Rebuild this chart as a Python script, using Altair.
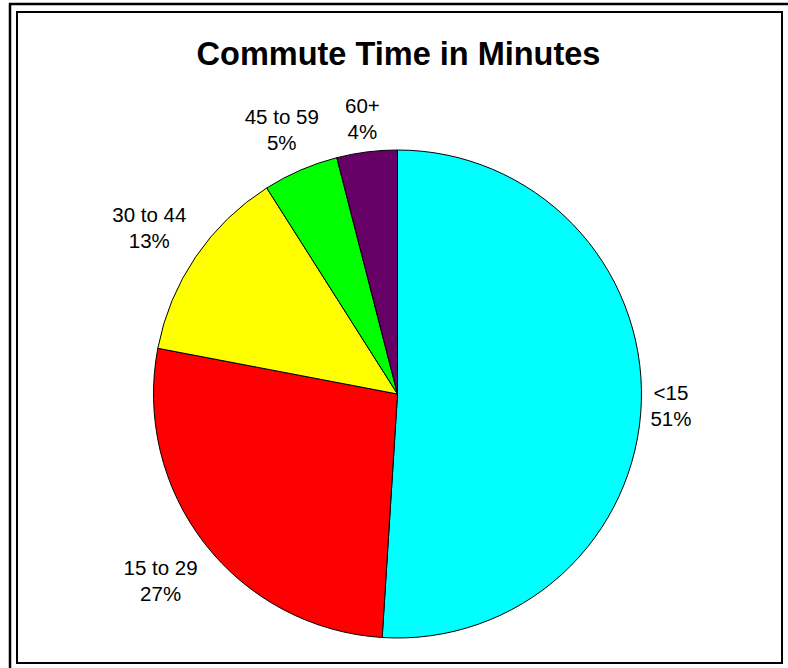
import altair as alt
import pandas as pd

categories = ["<15", "15 to 29", "30 to 44", "45 to 59", "60+"]
percents = [51, 27, 13, 5, 4]
colors = ["#00FFFF", "#FF0000", "#FFFF00", "#00FF00", "#660066"]

df = pd.DataFrame({
    "cat": categories,
    "value": percents,
    "idx": list(range(len(categories))),
    "pct": [f"{p}%" for p in percents],
    "label": [[c, f"{p}%"] for c, p in zip(categories, percents)],
})

one = pd.DataFrame({"a": [0]})

CX, CY = 397.5, 394
R = 244
LINE_H = 26

theta = alt.Theta("value:Q", stack=True)
order = alt.Order("idx:Q", sort="ascending")
color = alt.Color("cat:N", scale=alt.Scale(domain=categories, range=colors), legend=None)

pie = alt.Chart(df).mark_arc(outerRadius=R, stroke="black", strokeWidth=1).encode(
    theta=theta, order=order, color=color,
    x=alt.value(CX), y=alt.value(CY),
)

# label placement: nearest edge of each label box a fixed gap outside the pie,
# along the slice's mid-angle (clockwise from 12 o'clock)
labels = alt.Chart(df).transform_window(
    cum="sum(value)", sort=[alt.SortField("idx")], frame=[None, 0]
).transform_joinaggregate(
    total="sum(value)"
).transform_calculate(
    mid="(datum.cum - datum.value / 2) / datum.total * 2 * PI",
    halfw="4.3 * max(length(datum.cat), length(datum.pct)) + 4",
).transform_calculate(
    dist=f"{R} + 12 + abs(sin(datum.mid)) * datum.halfw + abs(cos(datum.mid)) * 22"
).transform_calculate(
    lx=f"{CX} + datum.dist * sin(datum.mid)",
    ly=f"{CY} - datum.dist * cos(datum.mid) - 9",
).mark_text(
    font="Liberation Sans", fontSize=20.5, lineHeight=LINE_H,
    align="center", baseline="middle", color="black",
).encode(
    x=alt.X("lx:Q", scale=None, axis=None),
    y=alt.Y("ly:Q", scale=None, axis=None),
    text="label",
)

outer = alt.Chart(one).mark_rect(fillOpacity=0, stroke="black", strokeWidth=2.5).encode(
    x=alt.value(10), x2=alt.value(820), y=alt.value(4), y2=alt.value(700)
)
inner = alt.Chart(one).mark_rect(fillOpacity=0, stroke="black", strokeWidth=2).encode(
    x=alt.value(17), x2=alt.value(782), y=alt.value(12), y2=alt.value(663)
)

title = alt.Chart(one).mark_text(
    text="Commute Time in Minutes", font="Liberation Sans", fontSize=32.5,
    fontWeight="bold", align="center", baseline="alphabetic", color="black",
).encode(x=alt.value(398.5), y=alt.value(65))

chart = alt.layer(outer, inner, pie, labels, title).properties(
    width=788, height=668, padding=0, autosize=alt.AutoSizeParams(type="none"),
    background="white",
).configure_view(stroke=None)

chart.save("out.html", embed_options={"renderer": "svg", "actions": False})
